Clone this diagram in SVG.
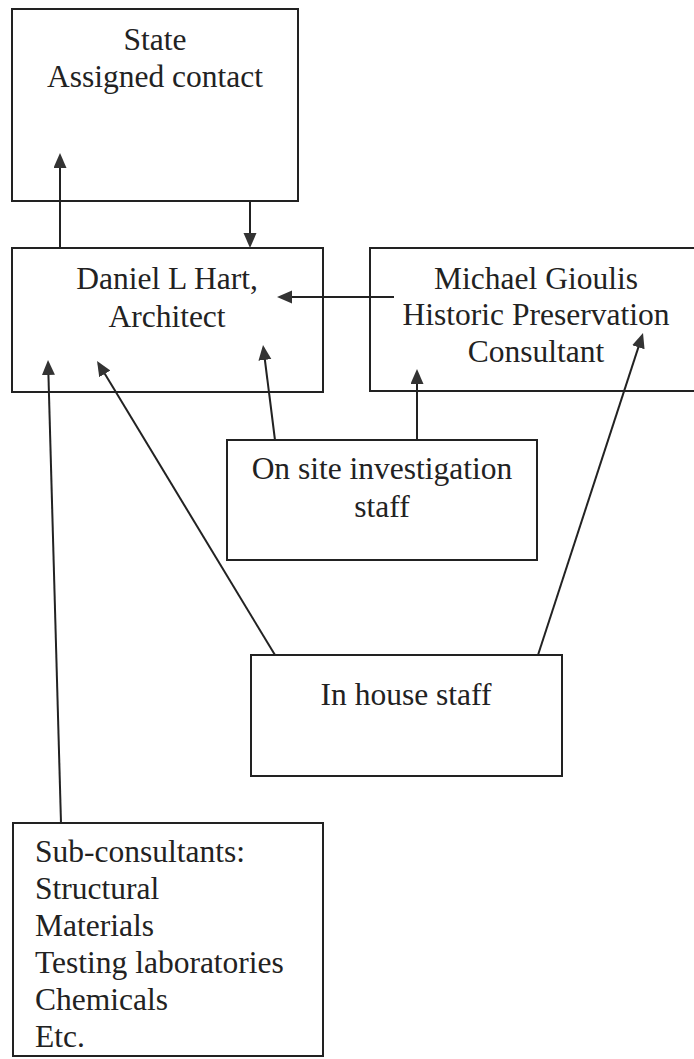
<svg xmlns="http://www.w3.org/2000/svg" width="694" height="1059" viewBox="0 0 694 1059">
<style>
.box{fill:#fff;stroke:#222;stroke-width:2}
.t{font-family:"Liberation Serif","Times New Roman",serif;font-size:31.5px;fill:#222}
.c{text-anchor:middle}
.ln{stroke:#222;stroke-width:2;fill:none;marker-end:url(#ah)}
</style>
<defs>
<marker id="ah" markerUnits="userSpaceOnUse" markerWidth="16" markerHeight="14" refX="12" refY="6.5" orient="auto">
<path d="M0,0 L15,6.5 L0,13 z" fill="#333"/>
</marker>
</defs>
<rect width="694" height="1059" fill="#fff"/>
<g id="state">
<rect class="box" x="12" y="9" width="286" height="192"/>
<text class="t c" x="155" y="50">State</text>
<text class="t c" x="155" y="87">Assigned contact</text>
</g>
<g id="architect">
<rect class="box" x="12" y="248" width="311" height="144"/>
<text class="t c" x="167" y="289">Daniel L Hart,</text>
<text class="t c" x="167" y="327">Architect</text>
</g>
<g id="consultant">
<rect class="box" x="370" y="248" width="333" height="143"/>
<text class="t c" x="536" y="289">Michael Gioulis</text>
<text class="t c" x="536" y="325">Historic Preservation</text>
<text class="t c" x="536" y="362">Consultant</text>
</g>
<g id="onsite">
<rect class="box" x="227" y="440" width="310" height="120"/>
<text class="t c" x="382" y="479">On site investigation</text>
<text class="t c" x="382" y="517">staff</text>
</g>
<g id="inhouse">
<rect class="box" x="251" y="655" width="311" height="121"/>
<text class="t c" x="406" y="705">In house staff</text>
</g>
<g id="subconsultants">
<rect class="box" x="13" y="823" width="310" height="233"/>
<text class="t" x="35" y="862">Sub-consultants:</text>
<text class="t" x="35" y="899">Structural</text>
<text class="t" x="35" y="936">Materials</text>
<text class="t" x="35" y="973">Testing laboratories</text>
<text class="t" x="35" y="1010">Chemicals</text>
<text class="t" x="35" y="1047">Etc.</text>
</g>
<g id="connectors">
<line class="ln" x1="60" y1="248" x2="60" y2="156"/>
<line class="ln" x1="250" y1="201" x2="250" y2="245"/>
<line class="ln" x1="394" y1="297" x2="280" y2="297"/>
<line class="ln" x1="61" y1="823" x2="48.1" y2="363"/>
<line class="ln" x1="275" y1="655" x2="98.6" y2="363.6"/>
<line class="ln" x1="275" y1="440" x2="263.4" y2="348"/>
<line class="ln" x1="417" y1="440" x2="417" y2="372"/>
<line class="ln" x1="538" y1="655" x2="642.1" y2="335.9"/>
</g>
</svg>
